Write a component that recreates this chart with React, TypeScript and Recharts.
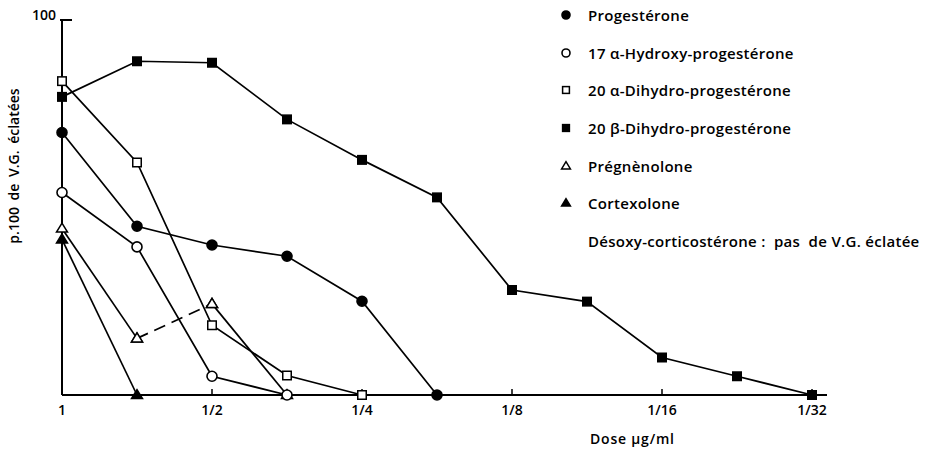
import React from "react";
import {
  LineChart,
  Line,
  XAxis,
  YAxis,
  Legend,
  Label,
} from "recharts";

// dose steps: index 0 = 1 µg/ml, each step lowers the dose by a factor sqrt(2)
const doseIndex = [0, 1, 2, 3, 4, 5, 6, 7, 8, 9, 10];
const doseTicks = [0, 2, 4, 6, 8, 10];
const doseTickLabels = ["1", "1/2", "1/4", "1/8", "1/16", "1/32"];

const progesterone = [70, 45, 40, 37, 25, 0];
const hydroxy17a = [54, 39.5, 5, 0];
const dihydro20a = [83.7, 62, 18.6, 5.2, 0];
const dihydro20b = [79.5, 89, 88.6, 73.5, 62.7, 52.7, 28, 24.9, 10, 5, 0];
const pregnenolone = [44.4, 15.1, 24.3, 0];
const cortexolone = [41.5, 0];

const FONT = "'Open Sans', 'DejaVu Sans', sans-serif";

const at = (arr: number[], i: number) => (i < arr.length ? arr[i] : null);

const data = doseIndex.map((x, i) => ({
  x,
  progesterone: at(progesterone, i),
  hydroxy17a: at(hydroxy17a, i),
  dihydro20a: at(dihydro20a, i),
  dihydro20b: at(dihydro20b, i),
  cortexolone: at(cortexolone, i),
  // pregnenolone: first and last segments solid, the middle one dashed
  pregA: i <= 1 ? at(pregnenolone, i) : null,
  pregB: i >= 2 ? at(pregnenolone, i) : null,
  pregDash: i === 1 || i === 2 ? at(pregnenolone, i) : null,
}));

type Shape = "circle" | "square" | "triangle";

const Marker = ({ cx, cy, shape, filled, size = 1 }: any) => {
  const fill = filled ? "#000" : "#fff";
  if (shape === "circle")
    return <circle cx={cx} cy={cy} r={5 * size} fill={fill} stroke="#000" strokeWidth={1.6} />;
  if (shape === "square") {
    const s = 8.5 * size;
    return <rect x={cx - s / 2} y={cy - s / 2} width={s} height={s} fill={fill} stroke="#000" strokeWidth={1.5} />;
  }
  const h = 9 * size;
  const w = 11 * size;
  return (
    <polygon
      points={`${cx},${cy - h * 0.6} ${cx - w / 2},${cy + h * 0.4} ${cx + w / 2},${cy + h * 0.4}`}
      fill={fill}
      stroke="#000"
      strokeWidth={1.5}
    />
  );
};

const dotFor = (name: string, shape: Shape, filled: boolean) => (props: any) => {
  const { cx, cy, index, value } = props;
  if (cx == null || cy == null || value == null) return <g key={`${name}-${index}`} />;
  return (
    <g key={`${name}-${index}`}>
      <Marker cx={cx} cy={cy} shape={shape} filled={filled} />
    </g>
  );
};

const legendItems: { label: string; shape?: Shape; filled?: boolean }[] = [
  { label: "Progestérone", shape: "circle", filled: true },
  { label: "17 α-Hydroxy-progestérone", shape: "circle", filled: false },
  { label: "20 α-Dihydro-progestérone", shape: "square", filled: false },
  { label: "20 β-Dihydro-progestérone", shape: "square", filled: true },
  { label: "Prégnènolone", shape: "triangle", filled: false },
  { label: "Cortexolone", shape: "triangle", filled: true },
  { label: "Désoxy-corticostérone :  pas  de V.G. éclatée" },
];

const LegendBox = () => (
  <div style={{ fontFamily: FONT, fontSize: 15, fontWeight: 600, letterSpacing: 0.3, color: "#000" }}>
    {legendItems.map((it) => (
      <div key={it.label} style={{ height: 37.7, display: "flex", alignItems: "center", whiteSpace: "pre" }}>
        <svg width={30} height={14} style={{ flex: "none" }}>
          {it.shape && <Marker cx={8} cy={7} shape={it.shape} filled={it.filled} size={0.8} />}
        </svg>
        <span>{it.label}</span>
      </div>
    ))}
  </div>
);

const YTick = ({ x, y, payload }: any) => (
  <g>
    <text x={x - 4} y={y} textAnchor="end" fontFamily={FONT} fontWeight={600} fontSize={14} fill="#000">
      {payload.value}
    </text>
    <line x1={x} x2={x + 12} y1={y} y2={y} stroke="#000" strokeWidth={2} />
  </g>
);

export default function App() {
  const line = { stroke: "#000", strokeWidth: 1.7, isAnimationActive: false, type: "linear" as const };
  return (
    <div style={{ position: "absolute", left: 0, top: 0, background: "#fff" }}>
      <LineChart width={936} height={450} data={data} margin={{ top: 20, right: 109, bottom: 25, left: 22 }}>
        <XAxis
          type="number"
          dataKey="x"
          domain={[0, 10.2]}
          ticks={doseTicks}
          tickFormatter={(v: number) => doseTickLabels[v / 2]}
          height={30}
          axisLine={{ stroke: "#000", strokeWidth: 2 }}
          tickLine={{ stroke: "#000", strokeWidth: 1.5 }}
          tickSize={-6}
          tickMargin={16}
          tick={{ fill: "#000", fontFamily: FONT, fontWeight: 600, fontSize: 14 }}
        >
          <Label
            content={() => (
              <text x={590} y={444} fontFamily={FONT} fontWeight={600} fontSize={14} letterSpacing={0.8} fill="#000">
                Dose µg/ml
              </text>
            )}
          />
        </XAxis>
        <YAxis
          type="number"
          domain={[0, 100]}
          ticks={[100]}
          width={40}
          axisLine={{ stroke: "#000", strokeWidth: 2 }}
          tickLine={false}
          tickSize={0}
          tick={<YTick />}
        >
          <Label
            content={() => (
              <text
                x={0}
                y={0}
                transform="translate(19,166) rotate(-90)"
                textAnchor="middle"
                fontFamily={FONT}
                fontWeight={600}
                fontSize={14}
                fill="#000"
                style={{ wordSpacing: 3 }}
              >
                p.100 de V.G. éclatées
              </text>
            )}
          />
        </YAxis>
        <Legend
          layout="horizontal"
          verticalAlign="middle"
          align="center"
          content={<LegendBox />}
          wrapperStyle={{ position: "absolute", left: 558, top: -4, width: 378 }}
        />
        <Line {...line} dataKey="cortexolone" dot={dotFor("cort", "triangle", true)} />
        <Line {...line} dataKey="pregA" dot={dotFor("pregA", "triangle", false)} />
        <Line {...line} dataKey="pregB" dot={dotFor("pregB", "triangle", false)} />
        <Line {...line} dataKey="pregDash" strokeDasharray="12 7" dot={dotFor("pregD", "triangle", false)} />
        <Line {...line} dataKey="hydroxy17a" dot={dotFor("h17", "circle", false)} />
        <Line {...line} dataKey="dihydro20a" dot={dotFor("d20a", "square", false)} />
        <Line {...line} dataKey="progesterone" dot={dotFor("prog", "circle", true)} />
        <Line {...line} dataKey="dihydro20b" dot={dotFor("d20b", "square", true)} />
      </LineChart>
    </div>
  );
}
